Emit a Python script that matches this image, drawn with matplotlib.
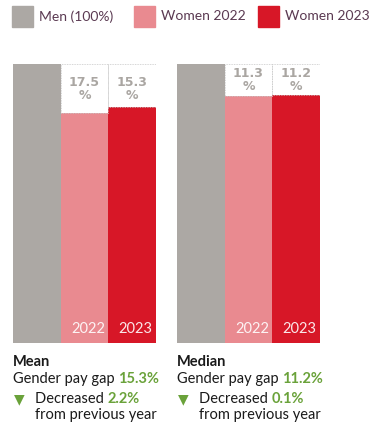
import matplotlib.pyplot as plt
from matplotlib.patches import Rectangle

plt.rcParams['font.family'] = ['Lato', 'DejaVu Sans']

# legend / series
series = ["Men (100%)", "Women 2022", "Women 2023"]
colors = ["#aca8a4", "#e98a90", "#d71727"]
years = ["2022", "2023"]

# pay gaps (%) per measure
measures = ["Mean", "Median"]
gap_2022 = [17.5, 11.3]
gap_2023 = [15.3, 11.2]
change = [2.2, 0.1]

W, H = 371, 430
fig = plt.figure(figsize=(W / 100, H / 100), dpi=100)

def fx(px):
    return px / W

def fy(py):
    return 1 - py / H

text_col = "#5b3a52"
green = "#6aa23a"
label_col = "#aaa6a2"

# legend row
leg_x = [12, 134, 258]
for x, lab, c in zip(leg_x, series, colors):
    fig.patches.append(Rectangle((fx(x), fy(27)), fx(21), 21 / H, color=c,
                                 transform=fig.transFigure))
    fig.text(fx(x + 27), fy(16.5), lab, color=text_col, fontsize=10, va="center")

panel_left = [13, 177]
for i, m in enumerate(measures):
    ax = fig.add_axes([fx(panel_left[i]), fy(343), fx(143), 279 / H])
    vals = [100, 100 - gap_2022[i], 100 - gap_2023[i]]
    gaps = [0, gap_2022[i], gap_2023[i]]
    ax.bar(range(3), vals, width=1.0, color=colors, align="edge", linewidth=0)
    mid = 100 - gap_2022[i] / 2
    for j in (1, 2):
        ax.add_patch(Rectangle((j, vals[j]), 1, gaps[j], fill=False,
                               edgecolor="#c8c8c8", linestyle=(0, (1, 1)), linewidth=0.6))
        # value and % sign stacked in the gap box
        ax.annotate(f"{gaps[j]:.1f}", (j + 0.5, mid), xytext=(0, 6),
                    textcoords="offset pixels", ha="center", va="center",
                    color=label_col, fontsize=9, fontweight="bold",
                    family="DejaVu Sans")
        ax.annotate("%", (j + 0.5, mid), xytext=(0, -7),
                    textcoords="offset pixels", ha="center", va="center",
                    color=label_col, fontsize=9, fontweight="bold",
                    family="DejaVu Sans")
        ax.text(j + 0.93, 2.5, years[j - 1], ha="right", va="bottom",
                color="white", fontsize=10.5, alpha=0.9)
    ax.set_xlim(0, 3)
    ax.set_ylim(0, 100)
    ax.axis("off")

    x0 = fx(panel_left[i])
    fig.text(x0, fy(362), m, fontsize=10.5, fontweight="bold", color="#1a1a1a", va="center")
    fig.canvas.draw()
    r = fig.canvas.get_renderer()
    t = fig.text(x0, fy(379), "Gender pay gap ", fontsize=10.5, color="#1a1a1a", va="center")
    bb = t.get_window_extent(r)
    fig.text(bb.x1 / W, fy(379), f"{gap_2023[i]}%", fontsize=10.5, color=green,
             fontweight="bold", va="center")
    fig.text(x0 + fx(1), fy(399), "\u25bc", fontsize=10, color=green, va="center")
    t = fig.text(x0 + fx(22), fy(399), "Decreased ", fontsize=10.5, color="#1a1a1a", va="center")
    bb = t.get_window_extent(r)
    fig.text(bb.x1 / W, fy(399), f"{change[i]}%", fontsize=10.5, color=green,
             fontweight="bold", va="center")
    fig.text(x0 + fx(22), fy(415), "from previous year", fontsize=10.5,
             color="#1a1a1a", va="center")

fig.savefig("out.png", dpi=100)
